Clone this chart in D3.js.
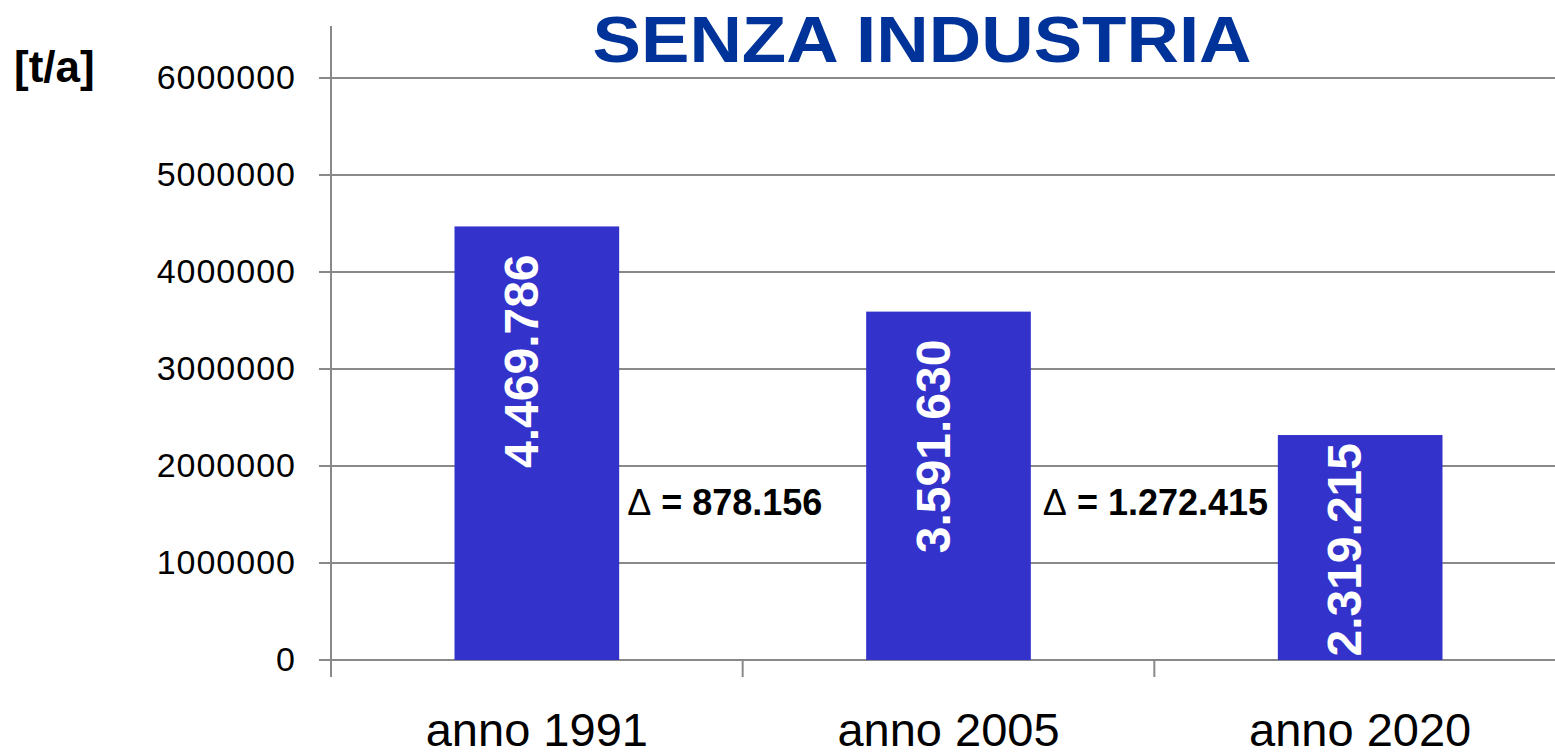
<!DOCTYPE html>
<html>
<head>
<meta charset="utf-8">
<script src="https://cdn.jsdelivr.net/npm/d3@7"></script>
<style>
  body { margin: 0; background: #fff; }
  svg { display: block; font-family: "Liberation Sans", Arial, sans-serif; }
</style>
</head>
<body>
<div id="chart"></div>
<script>
const width = 1555;
const height = 755;

// data
const categories = ["anno 1991", "anno 2005", "anno 2020"];
const values = [4469786, 3591630, 2319215];
const yTicks = [0, 1000000, 2000000, 3000000, 4000000, 5000000, 6000000];
const title = "SENZA INDUSTRIA";
const unitLabel = "[t/a]";

const it = d3.formatLocale({ decimal: ",", thousands: ".", grouping: [3], currency: ["", " €"] });
const fmt = it.format(",d");

const gridColor = "#898989";
const barColor = "#3333cc";

const svg = d3.select("#chart").append("svg")
    .attr("width", width)
    .attr("height", height);

const x = d3.scaleBand()
    .domain(categories)
    .range([331, 1566])
    .paddingInner(0.6)
    .paddingOuter(0.3);

const y = d3.scaleLinear()
    .domain([0, 6000000])
    .range([660, 78]);

// gridlines + y ticks
svg.append("g").selectAll("line")
    .data(yTicks)
    .join("line")
    .attr("x1", 319).attr("x2", width)
    .attr("y1", d => y(d)).attr("y2", d => y(d))
    .attr("stroke", gridColor)
    .attr("stroke-width", 2);

svg.append("g").selectAll("text")
    .data(yTicks)
    .join("text")
    .attr("x", 296)
    .attr("y", d => y(d))
    .attr("dy", "0.33em")
    .attr("text-anchor", "end")
    .attr("font-size", 34)
    .attr("letter-spacing", 1)
    .text(d => d);

// y axis line
svg.append("line")
    .attr("x1", 331).attr("x2", 331)
    .attr("y1", 26).attr("y2", 677)
    .attr("stroke", gridColor)
    .attr("stroke-width", 2);

// category ticks
const bandStep = x.step();
const tickXs = categories.map(c => x(c) - (bandStep - x.bandwidth()) / 2);
svg.append("g").selectAll("line")
    .data(tickXs.slice(1))
    .join("line")
    .attr("x1", d => d).attr("x2", d => d)
    .attr("y1", 660).attr("y2", 677)
    .attr("stroke", gridColor)
    .attr("stroke-width", 2);

// bars
svg.append("g").selectAll("rect")
    .data(values)
    .join("rect")
    .attr("x", (d, i) => x(categories[i]))
    .attr("width", x.bandwidth())
    .attr("y", d => y(d))
    .attr("height", d => y(0) - y(d))
    .attr("fill", barColor);

// value labels (rotated, white)
const labelLen = 212;
svg.append("g").selectAll("text")
    .data(values)
    .join("text")
    .attr("transform", (d, i) => {
        const cx = x(categories[i]) + x.bandwidth() / 2 + 1;
        let end = y(d) + 28;
        if (end + labelLen > y(0) - 5) end = y(0) - 5 - labelLen;
        return `translate(${cx},${end}) rotate(-90)`;
    })
    .attr("text-anchor", "end")
    .attr("fill", "#fff")
    .attr("font-weight", "bold")
    .attr("font-size", 48)
    .text(d => fmt(d));

// delta labels
const deltas = values.slice(1).map((v, i) => values[i] - v);
const dl = svg.append("g").selectAll("text")
    .data(deltas)
    .join("text")
    .attr("x", (d, i) => x(categories[i]) + x.bandwidth() + 8 + i * 4)
    .attr("y", 515)
    .attr("font-size", 36)
    .attr("font-weight", "bold");
dl.append("tspan").attr("font-weight", "normal").text("\u0394");
dl.append("tspan").text(d => " = " + fmt(d));

// category labels
svg.append("g").selectAll("text")
    .data(categories)
    .join("text")
    .attr("x", d => x(d) + x.bandwidth() / 2)
    .attr("y", 746)
    .attr("text-anchor", "middle")
    .attr("font-size", 47)
    .text(d => d);

// title
svg.append("text")
    .attr("x", 922)
    .attr("y", 62)
    .attr("text-anchor", "middle")
    .attr("font-size", 64)
    .attr("font-weight", "bold")
    .attr("fill", "#003399")
    .attr("textLength", 659)
    .attr("lengthAdjust", "spacingAndGlyphs")
    .text(title);

// unit label
svg.append("text")
    .attr("x", 14)
    .attr("y", 82)
    .attr("font-size", 44)
    .attr("font-weight", "bold")
    .text(unitLabel);
</script>
</body>
</html>
